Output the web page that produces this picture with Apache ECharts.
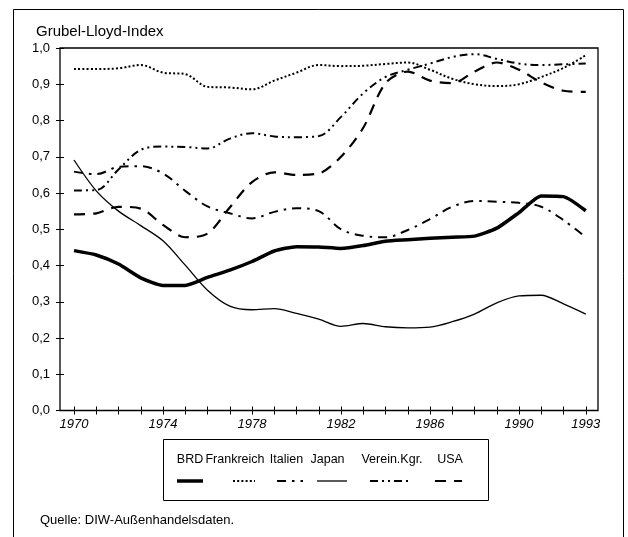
<!DOCTYPE html>
<html><head><meta charset="utf-8">
<script src="https://cdn.jsdelivr.net/npm/echarts@6/dist/echarts.min.js"></script>
<style>html,body{margin:0;padding:0;background:#fff}#c{width:628px;height:537px}</style>
</head><body><div id="c"></div>
<script>
const years = [1970,1971,1972,1973,1974,1975,1976,1977,1978,1979,1980,1981,1982,1983,1984,1985,1986,1987,1988,1989,1990,1991,1992,1993];
const xLabelYears = [1970,1974,1978,1982,1986,1990,1993];
const names = ['BRD','Frankreich','Italien','Japan','Verein.Kgr.','USA'];
const brd = [0.441,0.429,0.404,0.366,0.345,0.345,0.367,0.387,0.411,0.440,0.452,0.451,0.447,0.455,0.467,0.471,0.475,0.478,0.481,0.503,0.546,0.592,0.590,0.551];
const frankreich = [0.942,0.942,0.944,0.953,0.932,0.928,0.893,0.891,0.886,0.910,0.932,0.953,0.950,0.951,0.956,0.960,0.940,0.915,0.900,0.895,0.900,0.920,0.945,0.980];
const italien = [0.659,0.652,0.672,0.674,0.654,0.606,0.563,0.544,0.530,0.548,0.558,0.550,0.500,0.482,0.478,0.498,0.528,0.562,0.578,0.576,0.573,0.562,0.525,0.478];
const japan = [0.691,0.606,0.550,0.510,0.468,0.401,0.332,0.288,0.278,0.281,0.268,0.252,0.232,0.240,0.231,0.228,0.230,0.245,0.266,0.297,0.316,0.318,0.294,0.266];
const vereinKgr = [0.607,0.608,0.665,0.719,0.728,0.727,0.723,0.750,0.765,0.756,0.754,0.757,0.810,0.875,0.920,0.940,0.957,0.975,0.983,0.970,0.957,0.953,0.955,0.957];
const usa = [0.541,0.544,0.562,0.557,0.512,0.478,0.488,0.560,0.630,0.657,0.650,0.654,0.700,0.780,0.903,0.935,0.910,0.903,0.935,0.960,0.940,0.905,0.882,0.879];
const seriesData = [brd, frankreich, italien, japan, vereinKgr, usa];

const FONT = '"Liberation Sans", Arial, sans-serif';
const styles = [
  {width:3.5, type:'solid', smooth:0.2},
  {width:2, type:[2,2.2], smooth:0.35},
  {width:2, type:[9,6,2.5,6], smooth:0.35},
  {width:1.3, type:'solid', smooth:0.3},
  {width:2, type:[8,4,2,4,2,4], smooth:0.35},
  {width:2.2, type:[11,8], smooth:0.3}
];
// legend layout (positions only): text centres and sample line extents
const legTextCx = [190, 235, 286.5, 327.5, 392, 450];
const legLine = [[177,203],[233,255],[277,303],[317,347],[370,410],[435,462]];

const chart = echarts.init(document.getElementById('c'), null, {renderer:'canvas'});
const graphics = [
  {type:'rect', shape:{x:13.5,y:9.5,width:610,height:560}, style:{fill:'none',stroke:'#000',lineWidth:1}, silent:true},
  {type:'rect', shape:{x:60,y:48,width:538,height:362.5}, style:{fill:'none',stroke:'#000',lineWidth:1.3}, silent:true, z:10},
  {type:'rect', shape:{x:163.5,y:439.5,width:325,height:61}, style:{fill:'none',stroke:'#000',lineWidth:1}, silent:true},
  {type:'text', left:40, top:514, style:{text:'Quelle: DIW-Außenhandelsdaten.', fill:'#000', font:'13px '+FONT}}
];
names.forEach((n,i)=>{
  graphics.push({type:'text', x:legTextCx[i], y:460, style:{text:n, fill:'#000', font:'12.5px '+FONT, textAlign:'center', textVerticalAlign:'middle'}});
  const s = styles[i];
  graphics.push({type:'line', shape:{x1:legLine[i][0],y1:481,x2:legLine[i][1],y2:481},
    style:{stroke:'#000', lineWidth:s.width, lineDash: s.type==='solid'?null:s.type}});
});

chart.setOption({
  animation:false,
  backgroundColor:'#fff',
  title:{text:'Grubel-Lloyd-Index', left:31, top:19, textStyle:{fontSize:15, fontWeight:'normal', color:'#000', fontFamily:FONT}},
  grid:{left:74, right:42.25, top:48, bottom:126.5},
  xAxis:[
    {type:'category', data:years.map(String), boundaryGap:false,
     axisLine:{show:false}, splitLine:{show:false},
     axisTick:{show:true, interval:0, length:4, lineStyle:{color:'#000', width:1}},
     axisLabel:{interval:(i,v)=>xLabelYears.includes(+v), color:'#000', fontSize:13, fontStyle:'italic', fontFamily:FONT, margin:7}},
    {type:'category', data:years.map(String), boundaryGap:false, position:'bottom',
     axisLine:{show:false}, splitLine:{show:false},
     axisTick:{show:true, inside:true, interval:0, length:4, lineStyle:{color:'#000', width:1}},
     axisLabel:{show:false}}
  ],
  yAxis:[
    {type:'value', min:0, max:1, interval:0.1, offset:14, position:'left',
     axisLine:{show:false}, splitLine:{show:false},
     axisTick:{show:true, length:4, lineStyle:{color:'#000', width:1}},
     axisLabel:{formatter:v=>v.toFixed(1).replace('.',','), color:'#000', fontSize:13, fontFamily:FONT, margin:10}},
    {type:'value', min:0, max:1, interval:0.1, offset:14, position:'left',
     axisLine:{show:false}, splitLine:{show:false},
     axisTick:{show:true, inside:true, length:4, lineStyle:{color:'#000', width:1}},
     axisLabel:{show:false}}
  ],
  series: names.map((n,i)=>({
    name:n, type:'line', data:seriesData[i], xAxisIndex:0, yAxisIndex:0,
    showSymbol:false, symbol:'none', smooth:styles[i].smooth,
    lineStyle:{color:'#000', width:styles[i].width, type:styles[i].type, cap:'butt'}
  })),
  graphic: graphics
});
</script></body></html>
